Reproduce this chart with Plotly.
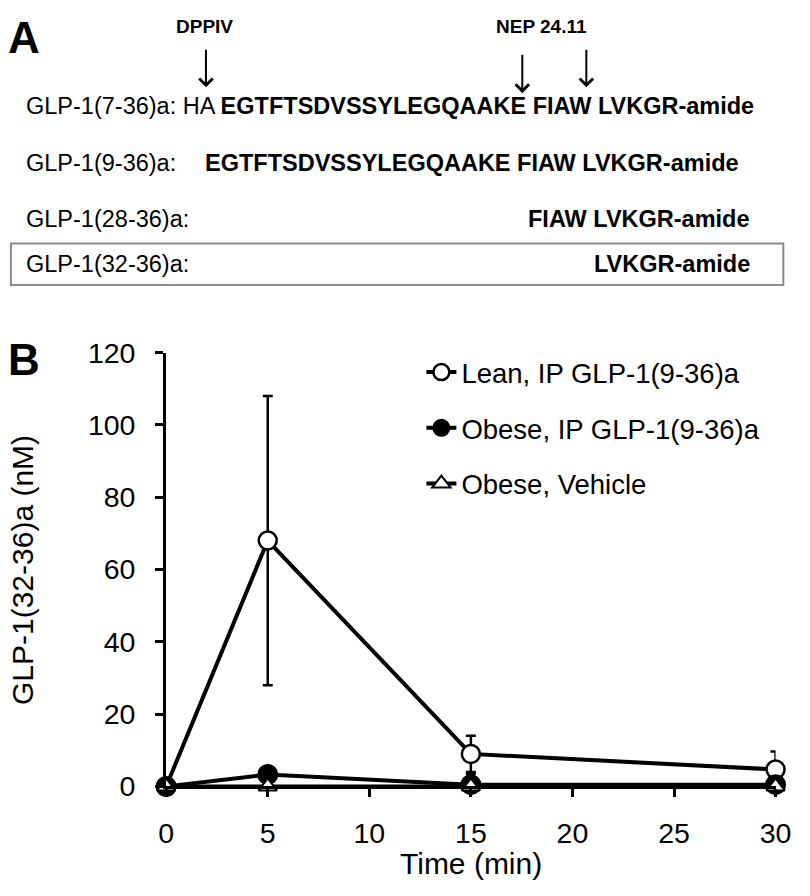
import plotly.graph_objects as go

W, H = 810, 896

# ---- data ----
time_min = [0, 5, 15, 30]
lean_ip = [0, 68, 9, 4.7]
lean_ip_err = [0, 40, 5, 5]
obese_ip = [0, 3.3, 0.5, 0.5]
obese_ip_err = [0, 1, 3, 0.5]
obese_vehicle = [0, 0, 0, 0]
obese_vehicle_err = [0, 0, 0, 0]

series_names = ["Lean, IP GLP-1(9-36)a", "Obese, IP GLP-1(9-36)a", "Obese, Vehicle"]
x_ticks = [0, 5, 10, 15, 20, 25, 30]
y_ticks = [0, 20, 40, 60, 80, 100, 120]

seq_labels = ["GLP-1(7-36)a: HA ", "GLP-1(9-36)a:", "GLP-1(28-36)a:", "GLP-1(32-36)a:"]
seq_bold = ["EGTFTSDVSSYLEGQAAKE FIAW LVKGR-amide",
            "EGTFTSDVSSYLEGQAAKE FIAW LVKGR-amide",
            "FIAW LVKGR-amide",
            "LVKGR-amide"]
enzymes = ["DPPIV", "NEP 24.11"]

FONT = "Liberation Sans, Arial, sans-serif"


def px(x):
    return x / W


def py(y):
    return 1 - y / H


fig = go.Figure()

fig.add_trace(go.Scatter(
    x=time_min, y=lean_ip, name=series_names[0], legendgroup="a",
    mode="lines+markers", cliponaxis=False,
    line=dict(color="black", width=4),
    marker=dict(symbol="circle", size=18, color="white", line=dict(color="black", width=2.5)),
    error_y=dict(type="data", array=lean_ip_err, color="black", thickness=2.5, width=5),
))
fig.add_trace(go.Scatter(
    x=time_min, y=obese_ip, name=series_names[1], legendgroup="b",
    mode="lines+markers", cliponaxis=False,
    line=dict(color="black", width=4),
    marker=dict(symbol="circle", size=19, color="black", line=dict(color="black", width=2)),
    error_y=dict(type="data", array=obese_ip_err, color="black", thickness=2.5, width=5),
))
fig.add_trace(go.Scatter(
    x=time_min, y=obese_vehicle, name=series_names[2], legendgroup="c",
    mode="lines+markers", cliponaxis=False,
    line=dict(color="black", width=4),
    marker=dict(symbol="triangle-up", size=16, color="white", line=dict(color="black", width=2)),
    error_y=dict(type="data", array=obese_vehicle_err, color="black", thickness=2.5, width=5),
))

x0, x1 = 163, 791
y_top, y_bot = 349, 799

axis_common = dict(
    showline=True, linecolor="black", linewidth=3,
    ticks="outside", ticklen=8, tickwidth=3, tickcolor="black",
    showgrid=False, zeroline=False,
    tickfont=dict(family=FONT, size=28.5, color="black"),
)

fig.update_layout(
    width=W, height=H,
    margin=dict(l=0, r=0, t=0, b=0),
    paper_bgcolor="white", plot_bgcolor="white",
    font=dict(family=FONT, color="black"),
    xaxis=dict(domain=[px(x0), px(x1)], range=[0, 30], tickvals=x_ticks,
               ticklabelstandoff=11, **axis_common),
    yaxis=dict(domain=[py(y_bot), py(y_top)], range=[0, 120], tickvals=y_ticks,
               ticklabelstandoff=14, **axis_common),
    showlegend=True,
    legend=dict(x=px(426), y=py(344), xanchor="left", yanchor="top",
                font=dict(family=FONT, size=27.5, color="black"),
                bgcolor="rgba(0,0,0,0)", traceorder="grouped", tracegroupgap=17,
                itemwidth=30),
)

ann = []
# axis titles
ann.append(dict(text="Time (min)", x=px((x0 + x1) / 2), y=py(879), xref="paper", yref="paper",
                showarrow=False, font=dict(family=FONT, size=30), xanchor="center", yanchor="middle"))
ann.append(dict(text="GLP-1(32-36)a (nM)", x=px(15), y=py(575), xref="paper", yref="paper",
                showarrow=False, textangle=-90, font=dict(family=FONT, size=30),
                xanchor="center", yanchor="middle"))
# panel letters
ann.append(dict(text="<b>A</b>", x=px(-2), y=py(22), xref="paper", yref="paper", showarrow=False,
                font=dict(family=FONT, size=44), xanchor="left", yanchor="middle"))
ann.append(dict(text="<b>B</b>", x=px(-2), y=py(356), xref="paper", yref="paper", showarrow=False,
                font=dict(family=FONT, size=44), xanchor="left", yanchor="middle"))
# enzyme labels
ann.append(dict(text="<b>%s</b>" % enzymes[0], x=px(202), y=py(11), xref="paper", yref="paper",
                showarrow=False, font=dict(family=FONT, size=19), xanchor="center", yanchor="middle"))
ann.append(dict(text="<b>%s</b>" % enzymes[1], x=px(550), y=py(11), xref="paper", yref="paper",
                showarrow=False, font=dict(family=FONT, size=19), xanchor="center", yanchor="middle"))
# arrows
for ax_, y_start, y_end in [(204, 35, 74), (530, 40, 80), (596, 35, 74)]:
    ann.append(dict(text="", x=px(ax_), y=py(y_end), ax=0, ay=-(y_end - y_start),
                    xref="paper", yref="paper", axref="pixel", ayref="pixel",
                    showarrow=True, arrowhead=4, arrowsize=1.3, arrowwidth=2, arrowcolor="black"))
# sequence lines
line_y = [93, 152, 211, 257]
right_edge = [752, 753, 765, 765]
SEQ = 23.5
ann.append(dict(text=seq_labels[0] + "<b>" + seq_bold[0] + "</b>", x=px(16), y=py(line_y[0]),
                xref="paper", yref="paper", showarrow=False, xanchor="left", yanchor="middle",
                font=dict(family=FONT, size=SEQ)))
for i in range(1, 4):
    ann.append(dict(text=seq_labels[i], x=px(16), y=py(line_y[i]), xref="paper", yref="paper",
                    showarrow=False, xanchor="left", yanchor="middle", font=dict(family=FONT, size=SEQ)))
    ann.append(dict(text="<b>" + seq_bold[i] + "</b>", x=px(right_edge[i] + 2), y=py(line_y[i]),
                    xref="paper", yref="paper", showarrow=False, xanchor="right", yanchor="middle",
                    font=dict(family=FONT, size=SEQ)))

fig.update_layout(annotations=ann)

fig.add_shape(type="rect", xref="paper", yref="paper",
              x0=px(3), x1=px(799), y0=py(236), y1=py(279),
              line=dict(color="#8a8a8a", width=2), fillcolor="rgba(0,0,0,0)")

fig.write_html("out.html", config={"displayModeBar": False},
               post_script="document.body.style.margin='0';document.body.style.padding='0';")
